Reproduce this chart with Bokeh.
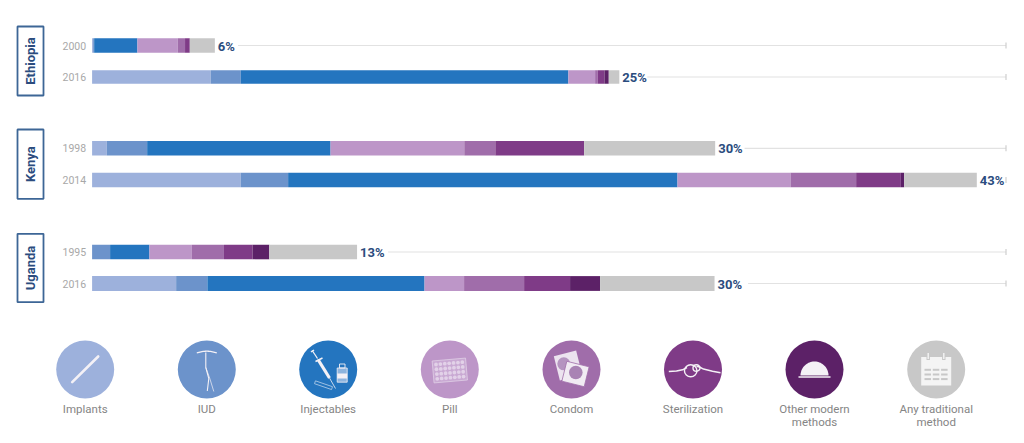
import numpy as np
from bokeh.plotting import figure
from bokeh.models import Range1d
from bokeh.core.properties import value
from bokeh.embed import file_html
from bokeh.resources import INLINE

# ---------- data (percent of women) ----------
countries = ["Ethiopia", "Kenya", "Uganda"]
years = ["2000", "2016", "1998", "2014", "1995", "2016"]
totals = ["6%", "25%", "30%", "43%", "13%", "30%"]
methods = ["Implants", "IUD", "Injectables", "Pill", "Condom", "Sterilization",
           "Other modern\nmethods", "Any traditional\nmethod"]
implants = [0.05, 5.73, 0.71, 7.18, 0.00, 4.06]
iud = [0.05, 1.45, 1.95, 2.29, 0.87, 1.51]
injectables = [2.09, 15.83, 8.86, 18.81, 1.90, 10.49]
pill = [1.95, 1.29, 6.46, 5.46, 2.05, 1.91]
condom = [0.35, 0.13, 1.50, 3.17, 1.55, 2.90]
sterilization = [0.23, 0.32, 4.29, 2.16, 1.38, 2.22]
other_modern = [0.00, 0.21, 0.00, 0.16, 0.81, 1.45]
traditional = [1.21, 0.51, 6.33, 3.51, 4.24, 5.53]
series = [implants, iud, injectables, pill, condom, sterilization, other_modern, traditional]

# ---------- styling / layout ----------
colors = ["#9db1dc", "#6c93cb", "#2475bf", "#bd96c8", "#a06daa", "#7f3b87", "#5c2167", "#c8c8c8"]
NAVY = "#2b4c7e"
FONT = value("Roboto")
row_y = [45.0, 76.5, 147.8, 179.5, 251.5, 283.0]
bar_h = [14.6, 13.6, 14.6, 14.6, 14.6, 14.8]
rule_gap = [1.12, 1.35, 1.42, None, 1.5, 1.62]
box_y = [(26, 95), (129, 198.3), (233.3, 301.7)]
legend_x = [84.7, 206.3, 327.7, 449.3, 571, 692.5, 814, 935.7]
legend_y = 369
PX_PER_PCT = 20.7
X0 = 91.6
W_PX, H_PX = 1016, 435

p = figure(width=W_PX, height=H_PX, output_backend="svg", toolbar_location=None,
           x_range=Range1d(-X0 / PX_PER_PCT, (W_PX - X0) / PX_PER_PCT),
           y_range=Range1d(H_PX, 0), min_border=0, outline_line_color=None,
           x_axis_location=None, y_axis_location=None)
p.grid.visible = False
p.extra_x_ranges["px"] = Range1d(0, W_PX)
W = "#f4f1f6"

# ---------- guide rules ----------
cum = np.zeros(len(row_y))
for vals in series:
    cum = cum + np.array(vals)
tick_x = 1005.5
tick_h = 6
for y, tot, gap in zip(row_y, cum, rule_gap):
    if gap is not None:
        p.line([PX_PER_PCT * (tot + gap) + X0, tick_x], [y, y], line_color="#e2e2e2", line_width=1.2, x_range_name="px")
    p.line([tick_x, tick_x], [y - tick_h / 2, y + tick_h / 2], line_color="#cfcfcf", line_width=1.2, x_range_name="px")

# ---------- stacked bars ----------
left = np.zeros(len(row_y))
for vals, c, m in zip(series, colors, methods):
    right = left + np.array(vals)
    p.hbar(y=row_y, left=left, right=right, height=bar_h, fill_color=c, line_color=None)
    left = right

# ---------- bar texts ----------
p.text(x=[0] * 6, y=row_y, text=years, text_font=FONT, text_font_size="10.5px", text_color="#a8a8a8",
       text_align="right", text_baseline="middle", x_offset=-6)
p.text(x=list(cum), y=[y + 0.6 for y in row_y], text=totals, text_font=FONT, text_font_style="bold",
       text_font_size="13px", text_color=NAVY, text_align="left", text_baseline="middle", x_offset=3)

# ---------- country boxes ----------
for name, (y0, y1) in zip(countries, box_y):
    p.quad(left=17, right=43, top=y0, bottom=y1, fill_color="white", line_color="#3d6696", line_width=1.8, x_range_name="px")
    p.text(x=[30], y=[(y0 + y1) / 2], text=[name], angle=np.pi / 2, text_font=FONT, text_font_style="bold",
           text_font_size="13px", text_color=NAVY, text_align="center", text_baseline="middle", x_range_name="px")

# ---------- legend ----------
p.circle(x=legend_x, y=[legend_y] * 8, radius=29, fill_color=colors, line_color=None, x_range_name="px")
for x, m in zip(legend_x, methods):
    for i, line in enumerate(m.split("\n")):
        p.text(x=[x], y=[408.0 + i * 13.8], text=[line], text_font=FONT, text_font_size="11.5px",
               text_color="#858585", text_align="center", text_baseline="middle", x_range_name="px")


def rot(cx, cy, pts, deg):
    a = np.radians(deg)
    pts = np.array(pts, dtype=float)
    return (cx + pts[:, 0] * np.cos(a) - pts[:, 1] * np.sin(a),
            cy + pts[:, 0] * np.sin(a) + pts[:, 1] * np.cos(a))


def box(cx, cy, w, h, deg, **kw):
    xs, ys = rot(cx, cy, [(-w / 2, -h / 2), (w / 2, -h / 2), (w / 2, h / 2), (-w / 2, h / 2)], deg)
    p.patch(xs, ys, x_range_name="px", **kw)


# implants icon
p.line([71.7, 97.7], [381.7, 356], line_color=W, line_width=2.6, line_cap="round", x_range_name="px")

# IUD icon
t = np.linspace(0, 1, 20)
cx = legend_x[1]
p.line(cx - 10 + 20 * t, 352.3 - 1.6 * np.sin(np.pi * t), line_color=W, line_width=1.3, x_range_name="px")
p.line([cx - 1, cx - 1, cx + 2, cx + 0.5], [352, 367, 378, 390.5], line_color=W, line_width=1.1, x_range_name="px")
p.line([cx - 1, cx + 3, cx + 7], [367, 378, 391], line_color=W, line_width=0.7, x_range_name="px")

# injectables icon
p.line([311.7, 317], [350, 358], line_color=W, line_width=1.3, x_range_name="px")
p.line([310.5, 313.5], [351.5, 349.5], line_color=W, line_width=1.5, x_range_name="px")
p.line([315, 322], [361, 357.5], line_color=W, line_width=1.5, x_range_name="px")
p.line([317.5, 329], [359, 377.5], line_color=W, line_width=3.2, x_range_name="px")
p.line([329, 335], [377.5, 388], line_color=W, line_width=0.8, x_range_name="px")
p.quad(left=336.7, right=346.7, top=367.5, bottom=381.7, fill_color="#8db4de", line_color=W, line_width=0.8, x_range_name="px")
p.quad(left=339, right=344.5, top=363.5, bottom=367.5, fill_color=None, line_color=W, line_width=0.9, x_range_name="px")
p.quad(left=336.7, right=346.7, top=373, bottom=378, fill_color=W, line_color=None, x_range_name="px")
box(323, 384.7, 18, 3, 19, fill_color=None, line_color="#a9c7e6", line_width=0.9)

# pill icon
box(449.3, 370, 33.5, 22, -5, fill_color="#c9a9d3", line_color="#e0cfe6", line_width=0.8)
gx, gy = np.meshgrid(np.arange(-3, 4) * 4.4, np.arange(-1.5, 2) * 4.8)
dx, dy = rot(449.3, 370, np.column_stack([gx.ravel(), gy.ravel()]), -5)
p.circle(x=dx, y=dy, radius=1.9, fill_color="#e2d1e8", line_color=None, x_range_name="px")

# condom icon
box(567.5, 365, 23, 25, -14, fill_color="#ece3ef", line_color=None)
p.circle(x=[563.3], y=[363.3], radius=6.5, fill_color="#b594c0", line_color=None, x_range_name="px")
box(575, 373.5, 23, 20.5, 14, fill_color="#f1ebf3", line_color=colors[4], line_width=0.8)
p.circle(x=[575.3], y=[372], radius=6.8, fill_color="#a983b4", line_color=None, x_range_name="px")

# sterilization icon
p.line([668.3, 676, 682, 686.5], [371, 370.6, 369.3, 367], line_color=W, line_width=1.5, x_range_name="px")
p.line([696, 699, 703, 712, 720], [365.7, 366.5, 368.6, 370.8, 372.2], line_color=W, line_width=1.5, x_range_name="px")
p.ellipse(x=[690.2], y=[370.3], width=12.5, height=12, fill_color=None, line_color=W, line_width=1.4, x_range_name="px")
p.ellipse(x=[696], y=[367.5], width=7, height=6.5, fill_color=None, line_color=W, line_width=1.4, x_range_name="px")

# other modern methods icon
a = np.linspace(0, np.pi, 40)
p.patch(814 + 14 * np.cos(a), 375 - 14 * np.sin(a), fill_color=W, line_color=None, x_range_name="px")
p.quad(left=798, right=830, top=375.8, bottom=377.2, fill_color=W, line_color=None, x_range_name="px")

# calendar icon
p.quad(left=920.7, right=950.7, top=356.5, bottom=385, fill_color="#f4f4f4", line_color=None, x_range_name="px")
for rx in (927.7, 943.3):
    p.line([rx, rx], [352.5, 359.5], line_color=colors[7], line_width=3.4, x_range_name="px")
    p.line([rx, rx], [352.5, 358.5], line_color="#f4f4f4", line_width=1.4, x_range_name="px")
for ry in (369.3, 374, 378.6):
    for rx in (924, 932.3, 940.6):
        p.quad(left=rx, right=rx + 6.5, top=ry - 1, bottom=ry + 1, fill_color=colors[7], line_color=None, x_range_name="px")

open("out.html", "w").write(file_html(p, INLINE))
